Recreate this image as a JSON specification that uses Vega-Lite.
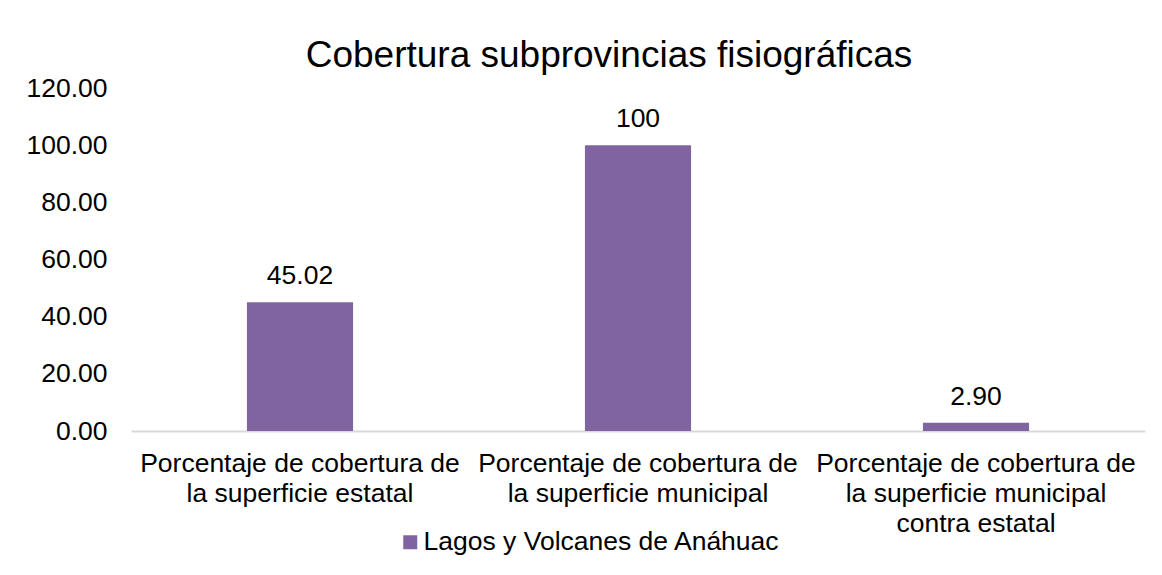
{
  "$schema": "https://vega.github.io/schema/vega-lite/v6.json",
  "width": 1014,
  "height": 343,
  "autosize": {"type": "none"},
  "padding": {"left": 131, "top": 88, "right": 17, "bottom": 144},
  "background": "#ffffff",
  "config": {
    "font": "Liberation Sans",
    "view": {"stroke": null}
  },
  "title": {
    "text": "Cobertura subprovincias fisiográficas",
    "fontSize": 37,
    "font": "Liberation Sans",
    "fontWeight": "normal",
    "color": "#000000",
    "anchor": "middle",
    "frame": "group",
    "dx": -29,
    "dy": 8,
    "offset": 8
  },
  "data": {
    "values": [
      {"categoria": "Porcentaje de cobertura de|la superficie estatal", "valor": 45.02, "etiqueta": "45.02", "serie": "Lagos y Volcanes de Anáhuac"},
      {"categoria": "Porcentaje de cobertura de|la superficie municipal", "valor": 100, "etiqueta": "100", "serie": "Lagos y Volcanes de Anáhuac"},
      {"categoria": "Porcentaje de cobertura de|la superficie municipal|contra estatal", "valor": 2.9, "etiqueta": "2.90", "serie": "Lagos y Volcanes de Anáhuac"}
    ]
  },
  "encoding": {
    "x": {
      "field": "categoria",
      "type": "nominal",
      "sort": null,
      "scale": {"paddingInner": 0.686, "paddingOuter": 0.343},
      "axis": {
        "title": null,
        "labelAngle": 0,
        "labelExpr": "split(datum.label, '|')",
        "labelFont": "Liberation Sans",
        "labelFontSize": 26.5,
        "labelColor": "#000000",
        "labelLineHeight": 30,
        "labelPadding": 19,
        "labelLimit": 0,
        "ticks": false,
        "domainColor": "#d9d9d9",
        "domainWidth": 2
      }
    },
    "y": {
      "field": "valor",
      "type": "quantitative",
      "scale": {"domain": [0, 120], "nice": false},
      "axis": {
        "title": null,
        "values": [0, 20, 40, 60, 80, 100, 120],
        "format": ".2f",
        "labelFont": "Liberation Sans",
        "labelFontSize": 26.5,
        "labelColor": "#000000",
        "labelPadding": 24,
        "ticks": false,
        "domain": false,
        "grid": false
      }
    }
  },
  "layer": [
    {
      "mark": {"type": "bar"},
      "encoding": {
        "color": {
          "field": "serie",
          "type": "nominal",
          "scale": {"range": ["#8064A2"]},
          "legend": {
            "title": null,
            "orient": "none",
            "legendX": 266,
            "legendY": 441,
            "symbolType": "square",
            "symbolSize": 196,
            "symbolStrokeWidth": 0,
            "symbolOpacity": 1,
            "labelFont": "Liberation Sans",
            "labelFontSize": 26.5,
            "labelColor": "#000000",
            "labelOffset": 0,
            "labelLimit": 0
          }
        }
      }
    },
    {
      "mark": {
        "type": "text",
        "baseline": "alphabetic",
        "dy": -18,
        "font": "Liberation Sans",
        "fontSize": 26.5,
        "color": "#000000"
      },
      "encoding": {
        "text": {"field": "etiqueta"}
      }
    }
  ]
}
